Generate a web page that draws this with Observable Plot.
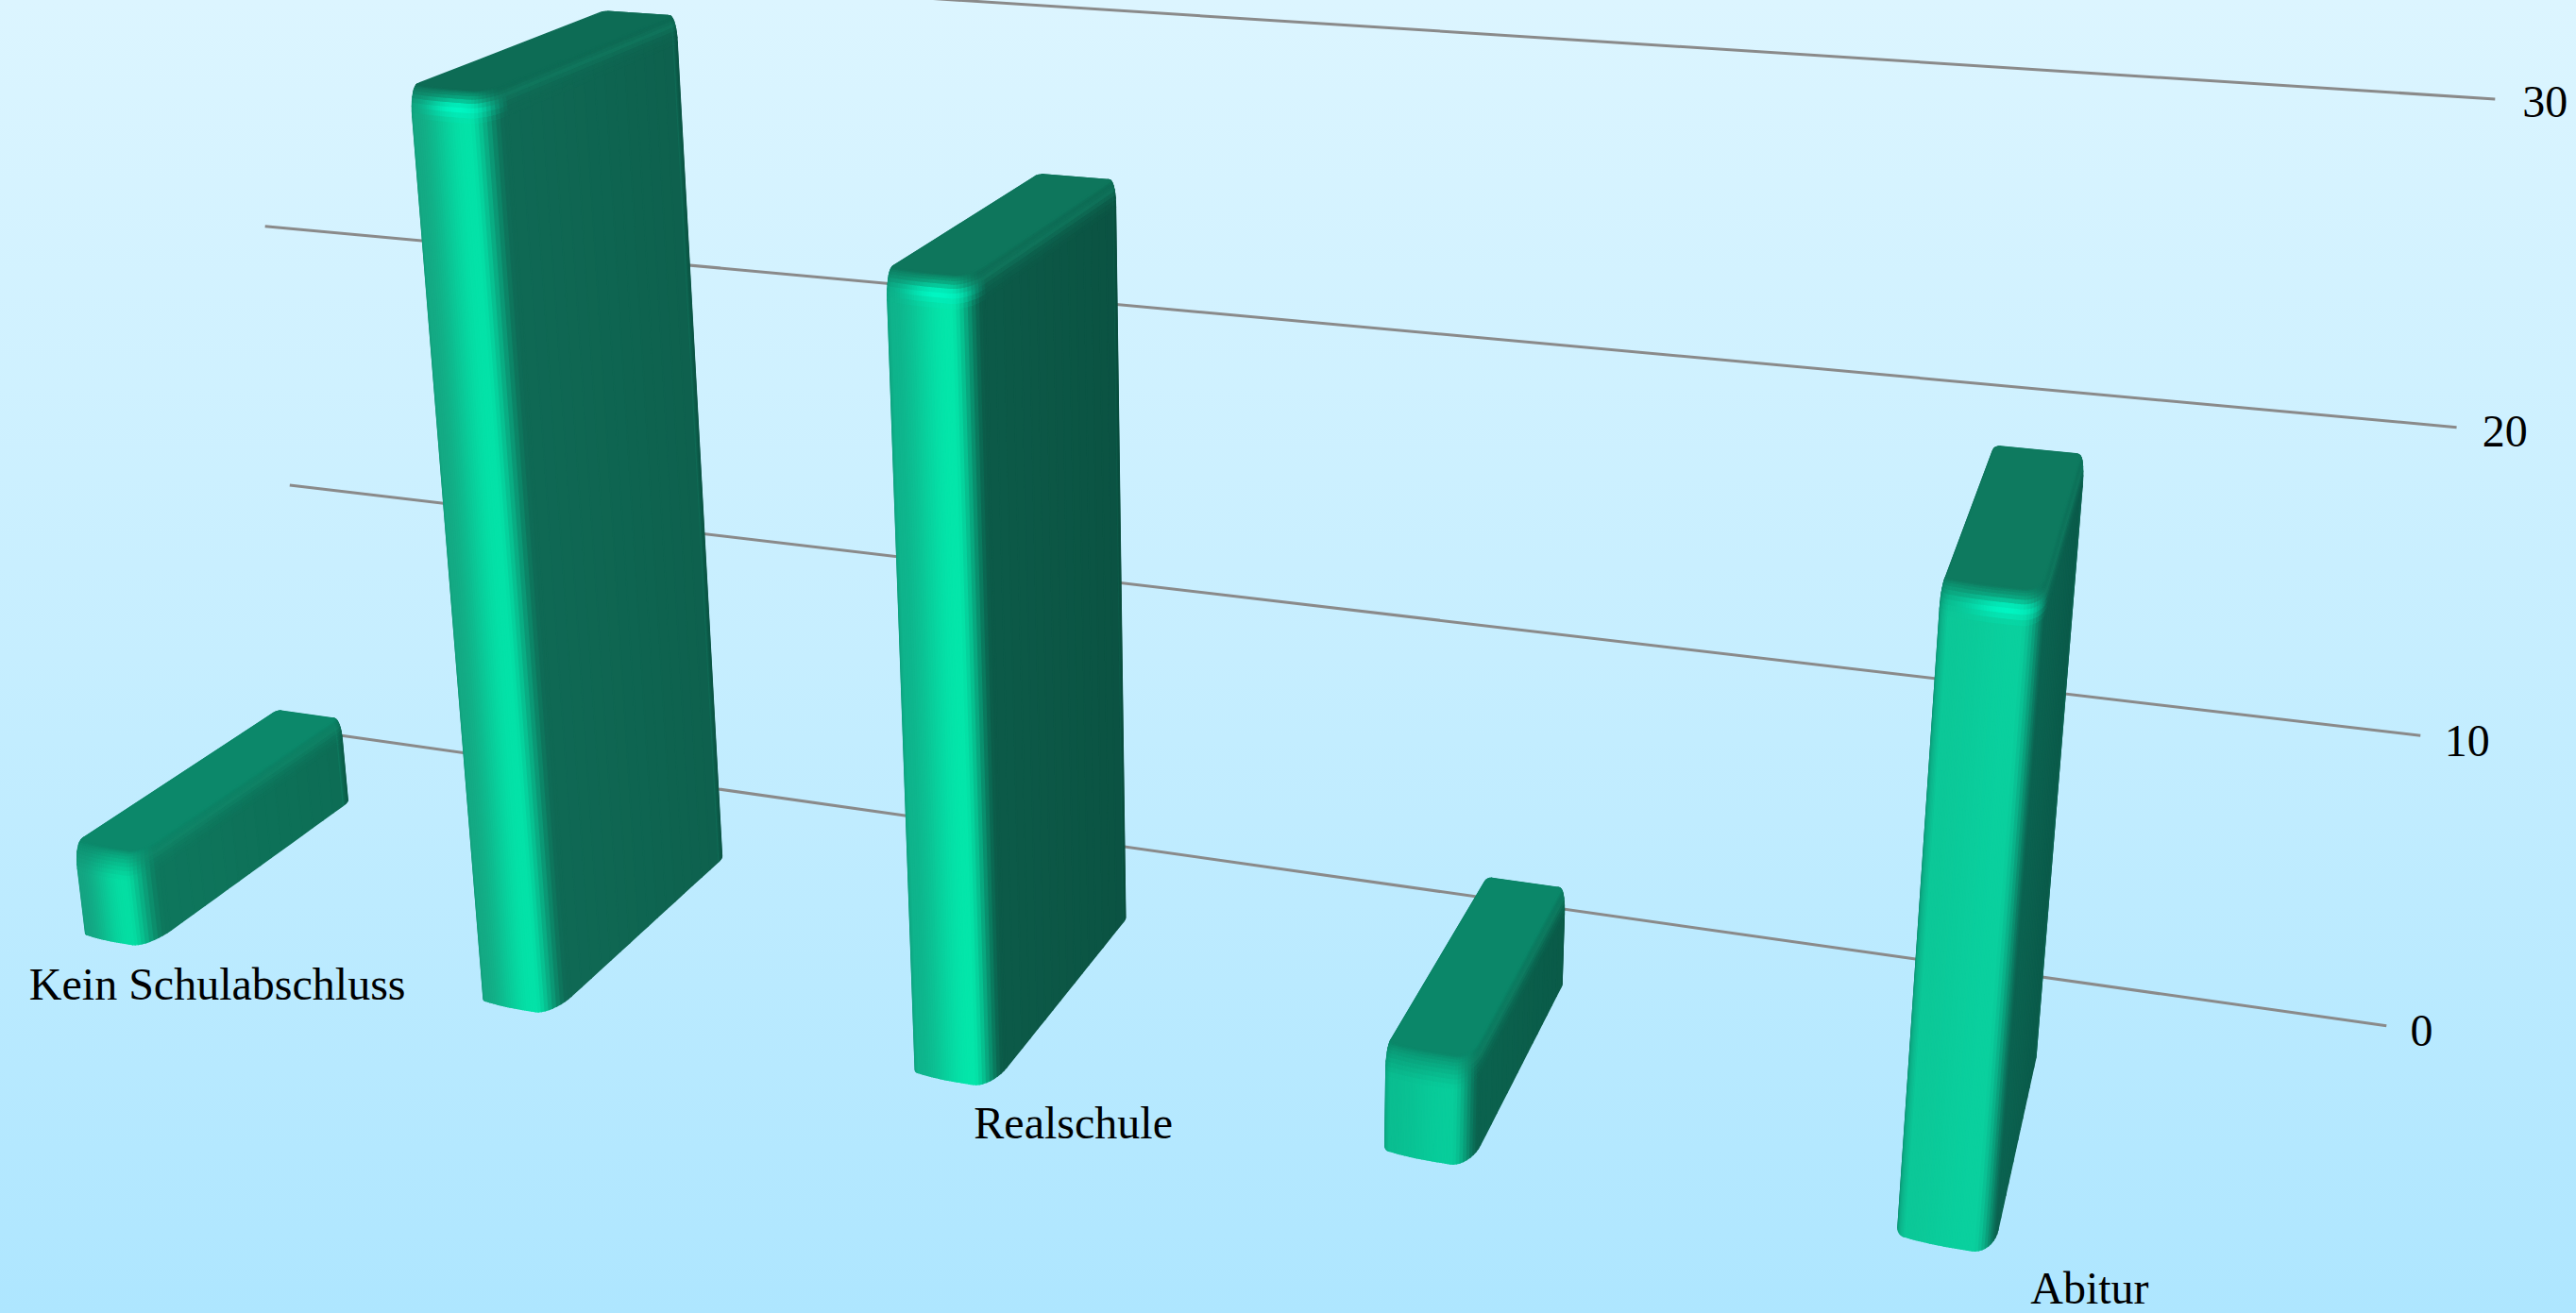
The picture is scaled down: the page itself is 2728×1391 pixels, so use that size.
<!DOCTYPE html>
<html><head><meta charset="utf-8">
<script src="https://cdn.jsdelivr.net/npm/d3@7"></script>
<script src="https://cdn.jsdelivr.net/npm/@observablehq/plot@0.6"></script>
<style>html,body{margin:0;padding:0;background:#c6eeff}svg{display:block}</style>
</head><body><div id="chart"></div>
<script>
const categories=["Kein Schulabschluss","Hauptschule","Realschule","Fachhochschulreife","Abitur"];
const shownCategories=["Kein Schulabschluss","Realschule","Abitur"];
const values=[3.3,30,25.7,3.4,19.75];
const gridValues=[0,10,20,30];

// perspective camera of the scene: category index, value, depth -> picture
const camera=[231.2226,-2.126990,138.6567,72.46327,16.37534,-17.99038,-39.90636,570.6609,-0.03940291,-0.002775393,0.09410716];
const w=.09,zF=-.03,zB=1.015,zg=1.434335,XL=-.2314146,XR=4.7739;
const project=(X,Y,Z)=>{const p=camera,d=p[8]*X+p[9]*Y+p[10]*Z+1;return[(p[0]*X+p[1]*Y+p[2]*Z+p[3])/d,(p[4]*X+p[5]*Y+p[6]*Z+p[7])/d];};

const palette={left:[[20,165,130],[20,170,132],[15,180,140],[10,190,145],[12,200,152]],
 high:[[5,222,163],[4,226,168],[4,230,170],[8,205,155],[10,208,158]],
 side:[[14,118,92],[15,105,84],[12,90,72],[11,98,78],[11,98,80]],
 top:[[12,136,106],[13,108,85],[14,118,92],[11,135,105],[14,122,95]]};
const mix=(a,b,t)=>a.map((x,i)=>x+(b[i]-x)*t);
const smooth=t=>{t=Math.max(0,Math.min(1,t));return t*t*(3-2*t);};
const css=c=>`rgb(${c.map(x=>Math.round(Math.max(0,Math.min(255,x)))).join(",")})`;
const strips=[];let sid=0;
function perimeter(i){
 const rxS=w*.2,rzS=.05,rxF=w*.42,rzF=.11,bow=.012,L=i-w,R=i+w,pts=[],n=10,edge=[10,88,74];
 const pl=palette.left[i],ph=palette.high[i],ps=palette.side[i],pd=mix(ps,[4,50,40],.55);
 const arc=(cx,cz,rx,rz,a0,a1,col)=>{for(let k=0;k<=n;k++){const t=k/n,a=(a0+(a1-a0)*t)*Math.PI/180,nx=Math.sin(a),nz=-Math.cos(a);pts.push({x:cx+rx*nx,z:cz+rz*nz,nx,nz,c:col(t)});}};
 arc(L+rxS,zF+bow+rzS,rxS,rzS,-90,0,t=>mix(edge,pl,Math.pow(t,.4)));
 for(let k=1;k<24;k++){const t=k/24;pts.push({x:L+rxS+(2*w-rxS-rxF)*t,z:zF+bow*Math.pow(Math.max(0,1-t/.7),2),nx:0,nz:-1,c:mix(pl,ph,smooth(t/.95))});}
 arc(R-rxF,zF+rzF,rxF,rzF,0,90,t=>mix(ph,ps,smooth(t*1.15)));
 for(let k=1;k<16;k++){const t=k/16;pts.push({x:R,z:zF+rzF+(zB-zF-rzF-rzS)*t,nx:1,nz:0,c:mix(ps,mix(ps,[0,0,0],.08),t)});}
 arc(R-rxS,zB-rzS,rxS,rzS,90,180,t=>mix(ps,pd,Math.pow(t,.5)));
 arc(L+rxS,zB-rzS,rxS,rzS,180,270,()=>edge);
 return pts;}
function quad(a,b,c,d,fill){const id=sid++;strips.push({id,x1:a[0],y1:a[1],x2:c[0],y2:c[1],fill},{id,x1:b[0],y1:b[1],x2:d[0],y2:d[1],fill});}
const cross=(a,b,c)=>(b[0]-a[0])*(c[1]-a[1])-(b[1]-a[1])*(c[0]-a[0]);
values.forEach((v,i)=>{
 const P=perimeter(i),ry=.9,bx=w*.1,bz=.03,topc=palette.top[i],hi=Math.min(1,Math.max(0,(v-6)/8));
 const at=(q,f)=>{const a=f*Math.PI/180,t=1-Math.cos(a);return project(q.x-q.nx*bx*t,v-ry+ry*Math.sin(a),q.z-q.nz*bz*t);};
 for(let k=0;k<P.length;k++){const a=P[k],b=P[(k+1)%P.length],p0=project(a.x,v-ry,a.z),p1=project(b.x,v-ry,b.z),q0=project(a.x,0,a.z),q1=project(b.x,0,b.z);
  if(cross(p0,p1,q0)<=0)continue;quad(p0,p1,q0,q1,css(a.c));}
 const phis=[0,10,20,30,40,50,60,70,80,90];
 for(let f=0;f<phis.length-1;f++){const t=(phis[f]+phis[f+1])/180;
  for(let k=0;k<P.length;k++){const a=P[k],b=P[(k+1)%P.length],p0=at(a,phis[f]),p1=at(b,phis[f]),q0=at(a,phis[f+1]),q1=at(b,phis[f+1]);
   if(cross(p0,p1,[2*p0[0]-q0[0],2*p0[1]-q0[1]])<=0)continue;
   let col=mix(a.c,topc,Math.pow(t,1.1));
   const bump=Math.exp(-Math.pow((t-.3)/.2,2)),front=Math.max(0,-a.nz),right=Math.max(0,a.nx),s=(a.x-(i+w*.3))/(w*.8);
   col=mix(col,[0,252,200],front*.9*hi*bump*Math.exp(-s*s));
   col=mix(col,[22,145,112],right*.3*Math.exp(-Math.pow((t-.5)/.14,2)));
   quad(p0,p1,q0,q1,css(col));}}
 const id=sid++,m=P.length,h=Math.floor(m/2);
 for(let k=0;k<=h;k++){const A=at(P[k],90),B=at(P[(m-k)%m],90);strips.push({id,x1:A[0],y1:A[1],x2:B[0],y2:B[1],fill:css(topc)});}
});
const gridRows=gridValues.map(v=>{const a=project(XL,v,zg),b=project(XR,v,zg);return{x1:a[0],y1:a[1],x2:b[0],y2:b[1]};});
const tickRows=gridValues.map(v=>{const a=project(XR+(v?.09:.07),v,zg);return{x:a[0],y:a[1],t:String(v)};});
const labelOffset=[[.34,-.165],[.3,-.135],[.27,-.11]];
const catRows=shownCategories.map((t,k)=>{const a=project(categories.indexOf(t)+labelOffset[k][0],0,labelOffset[k][1]);return{x:a[0],y:a[1],t};});
const font={fontSize:48,fontFamily:"Liberation Serif",fill:"#000"};
const chart=Plot.plot({width:2728,height:1391,margin:0,
 x:{domain:[0,1568],range:[0,2728],axis:null},y:{domain:[0,800],range:[0,1391],axis:null},color:{type:"identity"},
 style:{background:"linear-gradient(180deg,#dcf5ff 0%,#c6eeff 50%,#aee6ff 100%)"},
 marks:[
 Plot.link(gridRows,{x1:"x1",y1:"y1",x2:"x2",y2:"y2",stroke:"#8a8a8a",strokeWidth:3}),
 Plot.area(strips,{x1:"x1",y1:"y1",x2:"x2",y2:"y2",z:"id",fill:"fill",stroke:"fill",strokeWidth:1.4}),
 Plot.text(tickRows,{x:"x",y:"y",text:"t",...font}),
 Plot.text(catRows,{x:"x",y:"y",text:"t",...font})
 ]});
document.getElementById("chart").appendChild(chart);
</script></body></html>
